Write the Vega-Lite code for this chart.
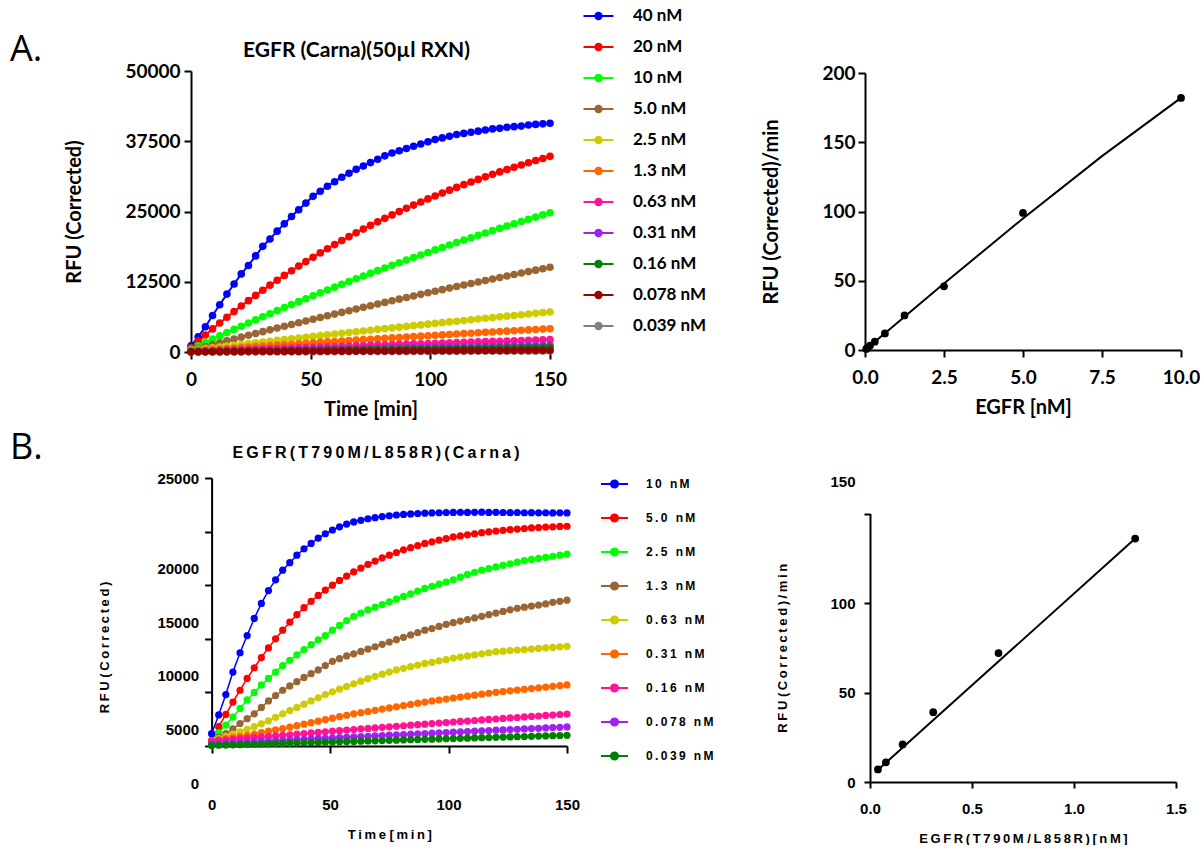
{
"$schema":"https://vega.github.io/schema/vega-lite/v6.json",
"background":"white",
"padding":{"left":10,"top":7,"right":0,"bottom":0},
"config":{"view":{"stroke":null},"axis":{"grid":false,"domainColor":"#000","domainWidth":2,"tickColor":"#000","tickWidth":2,"tickSize":7,"labelColor":"#000","titleColor":"#000","labelFlush":false,"labelOverlap":false,"labelFontWeight":"bold","titleFontWeight":"bold"},"title":{"color":"#000","offset":0}},
"datasets":{
"a":[
{"s":"0.039 nM","t":0,"y":10},{"s":"0.039 nM","t":3,"y":13},{"s":"0.039 nM","t":6,"y":16},{"s":"0.039 nM","t":9,"y":19},{"s":"0.039 nM","t":12,"y":22},{"s":"0.039 nM","t":15,"y":25},{"s":"0.039 nM","t":18,"y":28},{"s":"0.039 nM","t":21,"y":31},{"s":"0.039 nM","t":24,"y":34},{"s":"0.039 nM","t":27,"y":37},{"s":"0.039 nM","t":30,"y":40},{"s":"0.039 nM","t":33,"y":43},{"s":"0.039 nM","t":36,"y":46},{"s":"0.039 nM","t":39,"y":49},{"s":"0.039 nM","t":42,"y":52},{"s":"0.039 nM","t":45,"y":55},{"s":"0.039 nM","t":48,"y":58},{"s":"0.039 nM","t":51,"y":61},{"s":"0.039 nM","t":54,"y":64},{"s":"0.039 nM","t":57,"y":67},{"s":"0.039 nM","t":60,"y":70},{"s":"0.039 nM","t":63,"y":73},{"s":"0.039 nM","t":66,"y":76},{"s":"0.039 nM","t":69,"y":79},{"s":"0.039 nM","t":72,"y":82},{"s":"0.039 nM","t":75,"y":85},{"s":"0.039 nM","t":78,"y":88},{"s":"0.039 nM","t":81,"y":91},{"s":"0.039 nM","t":84,"y":94},{"s":"0.039 nM","t":87,"y":97},{"s":"0.039 nM","t":90,"y":100},{"s":"0.039 nM","t":93,"y":103},{"s":"0.039 nM","t":96,"y":106},{"s":"0.039 nM","t":99,"y":109},{"s":"0.039 nM","t":102,"y":112},{"s":"0.039 nM","t":105,"y":115},{"s":"0.039 nM","t":108,"y":118},{"s":"0.039 nM","t":111,"y":121},{"s":"0.039 nM","t":114,"y":124},{"s":"0.039 nM","t":117,"y":127},{"s":"0.039 nM","t":120,"y":130},{"s":"0.039 nM","t":123,"y":133},{"s":"0.039 nM","t":126,"y":136},{"s":"0.039 nM","t":129,"y":139},{"s":"0.039 nM","t":132,"y":142},{"s":"0.039 nM","t":135,"y":145},{"s":"0.039 nM","t":138,"y":148},{"s":"0.039 nM","t":141,"y":151},{"s":"0.039 nM","t":144,"y":154},{"s":"0.039 nM","t":147,"y":157},{"s":"0.039 nM","t":150,"y":160},
{"s":"40 nM","t":0,"y":1100},{"s":"40 nM","t":3,"y":2700},{"s":"40 nM","t":6,"y":4500},{"s":"40 nM","t":9,"y":6500},{"s":"40 nM","t":12,"y":8400},{"s":"40 nM","t":15,"y":10300},{"s":"40 nM","t":18,"y":12100},{"s":"40 nM","t":21,"y":13900},{"s":"40 nM","t":24,"y":15400},{"s":"40 nM","t":27,"y":17100},{"s":"40 nM","t":30,"y":18800},{"s":"40 nM","t":33,"y":20100},{"s":"40 nM","t":36,"y":21500},{"s":"40 nM","t":39,"y":22800},{"s":"40 nM","t":42,"y":24100},{"s":"40 nM","t":45,"y":25300},{"s":"40 nM","t":48,"y":26500},{"s":"40 nM","t":51,"y":27700},{"s":"40 nM","t":54,"y":28600},{"s":"40 nM","t":57,"y":29500},{"s":"40 nM","t":60,"y":30300},{"s":"40 nM","t":63,"y":31100},{"s":"40 nM","t":66,"y":31800},{"s":"40 nM","t":69,"y":32500},{"s":"40 nM","t":72,"y":33100},{"s":"40 nM","t":75,"y":33700},{"s":"40 nM","t":78,"y":34300},{"s":"40 nM","t":81,"y":34900},{"s":"40 nM","t":84,"y":35400},{"s":"40 nM","t":87,"y":35800},{"s":"40 nM","t":90,"y":36200},{"s":"40 nM","t":93,"y":36600},{"s":"40 nM","t":96,"y":37000},{"s":"40 nM","t":99,"y":37400},{"s":"40 nM","t":102,"y":37800},{"s":"40 nM","t":105,"y":38100},{"s":"40 nM","t":108,"y":38400},{"s":"40 nM","t":111,"y":38700},{"s":"40 nM","t":114,"y":38900},{"s":"40 nM","t":117,"y":39100},{"s":"40 nM","t":120,"y":39300},{"s":"40 nM","t":123,"y":39500},{"s":"40 nM","t":126,"y":39700},{"s":"40 nM","t":129,"y":39800},{"s":"40 nM","t":132,"y":40000},{"s":"40 nM","t":135,"y":40100},{"s":"40 nM","t":138,"y":40200},{"s":"40 nM","t":141,"y":40400},{"s":"40 nM","t":144,"y":40500},{"s":"40 nM","t":147,"y":40600},{"s":"40 nM","t":150,"y":40700},
{"s":"20 nM","t":0,"y":800},{"s":"20 nM","t":3,"y":1927},{"s":"20 nM","t":6,"y":3028},{"s":"20 nM","t":9,"y":4105},{"s":"20 nM","t":12,"y":5158},{"s":"20 nM","t":15,"y":6187},{"s":"20 nM","t":18,"y":7192},{"s":"20 nM","t":21,"y":8175},{"s":"20 nM","t":24,"y":9136},{"s":"20 nM","t":27,"y":10075},{"s":"20 nM","t":30,"y":10993},{"s":"20 nM","t":33,"y":11891},{"s":"20 nM","t":36,"y":12768},{"s":"20 nM","t":39,"y":13625},{"s":"20 nM","t":42,"y":14463},{"s":"20 nM","t":45,"y":15282},{"s":"20 nM","t":48,"y":16083},{"s":"20 nM","t":51,"y":16865},{"s":"20 nM","t":54,"y":17630},{"s":"20 nM","t":57,"y":18378},{"s":"20 nM","t":60,"y":19109},{"s":"20 nM","t":63,"y":19823},{"s":"20 nM","t":66,"y":20522},{"s":"20 nM","t":69,"y":21204},{"s":"20 nM","t":72,"y":21871},{"s":"20 nM","t":75,"y":22524},{"s":"20 nM","t":78,"y":23161},{"s":"20 nM","t":81,"y":23784},{"s":"20 nM","t":84,"y":24393},{"s":"20 nM","t":87,"y":24988},{"s":"20 nM","t":90,"y":25570},{"s":"20 nM","t":93,"y":26139},{"s":"20 nM","t":96,"y":26695},{"s":"20 nM","t":99,"y":27238},{"s":"20 nM","t":102,"y":27769},{"s":"20 nM","t":105,"y":28289},{"s":"20 nM","t":108,"y":28796},{"s":"20 nM","t":111,"y":29292},{"s":"20 nM","t":114,"y":29777},{"s":"20 nM","t":117,"y":30251},{"s":"20 nM","t":120,"y":30714},{"s":"20 nM","t":123,"y":31167},{"s":"20 nM","t":126,"y":31609},{"s":"20 nM","t":129,"y":32042},{"s":"20 nM","t":132,"y":32465},{"s":"20 nM","t":135,"y":32878},{"s":"20 nM","t":138,"y":33282},{"s":"20 nM","t":141,"y":33677},{"s":"20 nM","t":144,"y":34063},{"s":"20 nM","t":147,"y":34440},{"s":"20 nM","t":150,"y":34809},
{"s":"10 nM","t":0,"y":500},{"s":"10 nM","t":3,"y":1100},{"s":"10 nM","t":6,"y":1695},{"s":"10 nM","t":9,"y":2285},{"s":"10 nM","t":12,"y":2869},{"s":"10 nM","t":15,"y":3448},{"s":"10 nM","t":18,"y":4022},{"s":"10 nM","t":21,"y":4591},{"s":"10 nM","t":24,"y":5154},{"s":"10 nM","t":27,"y":5713},{"s":"10 nM","t":30,"y":6267},{"s":"10 nM","t":33,"y":6815},{"s":"10 nM","t":36,"y":7359},{"s":"10 nM","t":39,"y":7898},{"s":"10 nM","t":42,"y":8432},{"s":"10 nM","t":45,"y":8961},{"s":"10 nM","t":48,"y":9486},{"s":"10 nM","t":51,"y":10005},{"s":"10 nM","t":54,"y":10521},{"s":"10 nM","t":57,"y":11031},{"s":"10 nM","t":60,"y":11537},{"s":"10 nM","t":63,"y":12038},{"s":"10 nM","t":66,"y":12535},{"s":"10 nM","t":69,"y":13028},{"s":"10 nM","t":72,"y":13516},{"s":"10 nM","t":75,"y":14000},{"s":"10 nM","t":78,"y":14479},{"s":"10 nM","t":81,"y":14954},{"s":"10 nM","t":84,"y":15425},{"s":"10 nM","t":87,"y":15891},{"s":"10 nM","t":90,"y":16354},{"s":"10 nM","t":93,"y":16812},{"s":"10 nM","t":96,"y":17266},{"s":"10 nM","t":99,"y":17716},{"s":"10 nM","t":102,"y":18162},{"s":"10 nM","t":105,"y":18604},{"s":"10 nM","t":108,"y":19042},{"s":"10 nM","t":111,"y":19476},{"s":"10 nM","t":114,"y":19907},{"s":"10 nM","t":117,"y":20333},{"s":"10 nM","t":120,"y":20756},{"s":"10 nM","t":123,"y":21175},{"s":"10 nM","t":126,"y":21590},{"s":"10 nM","t":129,"y":22001},{"s":"10 nM","t":132,"y":22409},{"s":"10 nM","t":135,"y":22813},{"s":"10 nM","t":138,"y":23213},{"s":"10 nM","t":141,"y":23610},{"s":"10 nM","t":144,"y":24003},{"s":"10 nM","t":147,"y":24392},{"s":"10 nM","t":150,"y":24779},
{"s":"5.0 nM","t":0,"y":300},{"s":"5.0 nM","t":3,"y":641},{"s":"5.0 nM","t":6,"y":980},{"s":"5.0 nM","t":9,"y":1317},{"s":"5.0 nM","t":12,"y":1652},{"s":"5.0 nM","t":15,"y":1985},{"s":"5.0 nM","t":18,"y":2316},{"s":"5.0 nM","t":21,"y":2644},{"s":"5.0 nM","t":24,"y":2971},{"s":"5.0 nM","t":27,"y":3296},{"s":"5.0 nM","t":30,"y":3619},{"s":"5.0 nM","t":33,"y":3941},{"s":"5.0 nM","t":36,"y":4260},{"s":"5.0 nM","t":39,"y":4577},{"s":"5.0 nM","t":42,"y":4892},{"s":"5.0 nM","t":45,"y":5206},{"s":"5.0 nM","t":48,"y":5518},{"s":"5.0 nM","t":51,"y":5827},{"s":"5.0 nM","t":54,"y":6135},{"s":"5.0 nM","t":57,"y":6441},{"s":"5.0 nM","t":60,"y":6746},{"s":"5.0 nM","t":63,"y":7048},{"s":"5.0 nM","t":66,"y":7349},{"s":"5.0 nM","t":69,"y":7647},{"s":"5.0 nM","t":72,"y":7944},{"s":"5.0 nM","t":75,"y":8240},{"s":"5.0 nM","t":78,"y":8533},{"s":"5.0 nM","t":81,"y":8825},{"s":"5.0 nM","t":84,"y":9115},{"s":"5.0 nM","t":87,"y":9403},{"s":"5.0 nM","t":90,"y":9690},{"s":"5.0 nM","t":93,"y":9974},{"s":"5.0 nM","t":96,"y":10258},{"s":"5.0 nM","t":99,"y":10539},{"s":"5.0 nM","t":102,"y":10819},{"s":"5.0 nM","t":105,"y":11097},{"s":"5.0 nM","t":108,"y":11373},{"s":"5.0 nM","t":111,"y":11648},{"s":"5.0 nM","t":114,"y":11921},{"s":"5.0 nM","t":117,"y":12192},{"s":"5.0 nM","t":120,"y":12462},{"s":"5.0 nM","t":123,"y":12730},{"s":"5.0 nM","t":126,"y":12997},{"s":"5.0 nM","t":129,"y":13262},{"s":"5.0 nM","t":132,"y":13525},{"s":"5.0 nM","t":135,"y":13788},{"s":"5.0 nM","t":138,"y":14048},{"s":"5.0 nM","t":141,"y":14306},{"s":"5.0 nM","t":144,"y":14564},{"s":"5.0 nM","t":147,"y":14819},{"s":"5.0 nM","t":150,"y":15073},
{"s":"2.5 nM","t":0,"y":300},{"s":"2.5 nM","t":3,"y":450},{"s":"2.5 nM","t":6,"y":599},{"s":"2.5 nM","t":9,"y":748},{"s":"2.5 nM","t":12,"y":896},{"s":"2.5 nM","t":15,"y":1043},{"s":"2.5 nM","t":18,"y":1190},{"s":"2.5 nM","t":21,"y":1337},{"s":"2.5 nM","t":24,"y":1483},{"s":"2.5 nM","t":27,"y":1628},{"s":"2.5 nM","t":30,"y":1773},{"s":"2.5 nM","t":33,"y":1917},{"s":"2.5 nM","t":36,"y":2061},{"s":"2.5 nM","t":39,"y":2204},{"s":"2.5 nM","t":42,"y":2347},{"s":"2.5 nM","t":45,"y":2489},{"s":"2.5 nM","t":48,"y":2631},{"s":"2.5 nM","t":51,"y":2772},{"s":"2.5 nM","t":54,"y":2913},{"s":"2.5 nM","t":57,"y":3053},{"s":"2.5 nM","t":60,"y":3192},{"s":"2.5 nM","t":63,"y":3331},{"s":"2.5 nM","t":66,"y":3469},{"s":"2.5 nM","t":69,"y":3607},{"s":"2.5 nM","t":72,"y":3744},{"s":"2.5 nM","t":75,"y":3881},{"s":"2.5 nM","t":78,"y":4017},{"s":"2.5 nM","t":81,"y":4153},{"s":"2.5 nM","t":84,"y":4288},{"s":"2.5 nM","t":87,"y":4423},{"s":"2.5 nM","t":90,"y":4557},{"s":"2.5 nM","t":93,"y":4691},{"s":"2.5 nM","t":96,"y":4824},{"s":"2.5 nM","t":99,"y":4956},{"s":"2.5 nM","t":102,"y":5088},{"s":"2.5 nM","t":105,"y":5219},{"s":"2.5 nM","t":108,"y":5350},{"s":"2.5 nM","t":111,"y":5480},{"s":"2.5 nM","t":114,"y":5610},{"s":"2.5 nM","t":117,"y":5739},{"s":"2.5 nM","t":120,"y":5868},{"s":"2.5 nM","t":123,"y":5996},{"s":"2.5 nM","t":126,"y":6124},{"s":"2.5 nM","t":129,"y":6251},{"s":"2.5 nM","t":132,"y":6377},{"s":"2.5 nM","t":135,"y":6503},{"s":"2.5 nM","t":138,"y":6629},{"s":"2.5 nM","t":141,"y":6754},{"s":"2.5 nM","t":144,"y":6878},{"s":"2.5 nM","t":147,"y":7002},{"s":"2.5 nM","t":150,"y":7125},
{"s":"1.3 nM","t":0,"y":200},{"s":"1.3 nM","t":3,"y":287},{"s":"1.3 nM","t":6,"y":373},{"s":"1.3 nM","t":9,"y":459},{"s":"1.3 nM","t":12,"y":545},{"s":"1.3 nM","t":15,"y":631},{"s":"1.3 nM","t":18,"y":716},{"s":"1.3 nM","t":21,"y":801},{"s":"1.3 nM","t":24,"y":886},{"s":"1.3 nM","t":27,"y":970},{"s":"1.3 nM","t":30,"y":1054},{"s":"1.3 nM","t":33,"y":1137},{"s":"1.3 nM","t":36,"y":1221},{"s":"1.3 nM","t":39,"y":1304},{"s":"1.3 nM","t":42,"y":1386},{"s":"1.3 nM","t":45,"y":1469},{"s":"1.3 nM","t":48,"y":1551},{"s":"1.3 nM","t":51,"y":1632},{"s":"1.3 nM","t":54,"y":1714},{"s":"1.3 nM","t":57,"y":1795},{"s":"1.3 nM","t":60,"y":1875},{"s":"1.3 nM","t":63,"y":1956},{"s":"1.3 nM","t":66,"y":2036},{"s":"1.3 nM","t":69,"y":2115},{"s":"1.3 nM","t":72,"y":2195},{"s":"1.3 nM","t":75,"y":2274},{"s":"1.3 nM","t":78,"y":2352},{"s":"1.3 nM","t":81,"y":2431},{"s":"1.3 nM","t":84,"y":2509},{"s":"1.3 nM","t":87,"y":2587},{"s":"1.3 nM","t":90,"y":2664},{"s":"1.3 nM","t":93,"y":2741},{"s":"1.3 nM","t":96,"y":2818},{"s":"1.3 nM","t":99,"y":2895},{"s":"1.3 nM","t":102,"y":2971},{"s":"1.3 nM","t":105,"y":3047},{"s":"1.3 nM","t":108,"y":3122},{"s":"1.3 nM","t":111,"y":3197},{"s":"1.3 nM","t":114,"y":3272},{"s":"1.3 nM","t":117,"y":3347},{"s":"1.3 nM","t":120,"y":3421},{"s":"1.3 nM","t":123,"y":3495},{"s":"1.3 nM","t":126,"y":3568},{"s":"1.3 nM","t":129,"y":3641},{"s":"1.3 nM","t":132,"y":3714},{"s":"1.3 nM","t":135,"y":3787},{"s":"1.3 nM","t":138,"y":3859},{"s":"1.3 nM","t":141,"y":3931},{"s":"1.3 nM","t":144,"y":4003},{"s":"1.3 nM","t":147,"y":4074},{"s":"1.3 nM","t":150,"y":4145},
{"s":"0.63 nM","t":0,"y":100},{"s":"0.63 nM","t":3,"y":145},{"s":"0.63 nM","t":6,"y":190},{"s":"0.63 nM","t":9,"y":234},{"s":"0.63 nM","t":12,"y":279},{"s":"0.63 nM","t":15,"y":324},{"s":"0.63 nM","t":18,"y":368},{"s":"0.63 nM","t":21,"y":412},{"s":"0.63 nM","t":24,"y":456},{"s":"0.63 nM","t":27,"y":500},{"s":"0.63 nM","t":30,"y":544},{"s":"0.63 nM","t":33,"y":588},{"s":"0.63 nM","t":36,"y":631},{"s":"0.63 nM","t":39,"y":675},{"s":"0.63 nM","t":42,"y":718},{"s":"0.63 nM","t":45,"y":762},{"s":"0.63 nM","t":48,"y":805},{"s":"0.63 nM","t":51,"y":848},{"s":"0.63 nM","t":54,"y":891},{"s":"0.63 nM","t":57,"y":933},{"s":"0.63 nM","t":60,"y":976},{"s":"0.63 nM","t":63,"y":1019},{"s":"0.63 nM","t":66,"y":1061},{"s":"0.63 nM","t":69,"y":1103},{"s":"0.63 nM","t":72,"y":1145},{"s":"0.63 nM","t":75,"y":1188},{"s":"0.63 nM","t":78,"y":1229},{"s":"0.63 nM","t":81,"y":1271},{"s":"0.63 nM","t":84,"y":1313},{"s":"0.63 nM","t":87,"y":1355},{"s":"0.63 nM","t":90,"y":1396},{"s":"0.63 nM","t":93,"y":1437},{"s":"0.63 nM","t":96,"y":1479},{"s":"0.63 nM","t":99,"y":1520},{"s":"0.63 nM","t":102,"y":1561},{"s":"0.63 nM","t":105,"y":1602},{"s":"0.63 nM","t":108,"y":1642},{"s":"0.63 nM","t":111,"y":1683},{"s":"0.63 nM","t":114,"y":1723},{"s":"0.63 nM","t":117,"y":1764},{"s":"0.63 nM","t":120,"y":1804},{"s":"0.63 nM","t":123,"y":1844},{"s":"0.63 nM","t":126,"y":1884},{"s":"0.63 nM","t":129,"y":1924},{"s":"0.63 nM","t":132,"y":1964},{"s":"0.63 nM","t":135,"y":2003},{"s":"0.63 nM","t":138,"y":2043},{"s":"0.63 nM","t":141,"y":2082},{"s":"0.63 nM","t":144,"y":2122},{"s":"0.63 nM","t":147,"y":2161},{"s":"0.63 nM","t":150,"y":2200},
{"s":"0.31 nM","t":0,"y":80},{"s":"0.31 nM","t":3,"y":103},{"s":"0.31 nM","t":6,"y":126},{"s":"0.31 nM","t":9,"y":149},{"s":"0.31 nM","t":12,"y":172},{"s":"0.31 nM","t":15,"y":195},{"s":"0.31 nM","t":18,"y":218},{"s":"0.31 nM","t":21,"y":240},{"s":"0.31 nM","t":24,"y":263},{"s":"0.31 nM","t":27,"y":286},{"s":"0.31 nM","t":30,"y":309},{"s":"0.31 nM","t":33,"y":332},{"s":"0.31 nM","t":36,"y":355},{"s":"0.31 nM","t":39,"y":377},{"s":"0.31 nM","t":42,"y":400},{"s":"0.31 nM","t":45,"y":423},{"s":"0.31 nM","t":48,"y":445},{"s":"0.31 nM","t":51,"y":468},{"s":"0.31 nM","t":54,"y":491},{"s":"0.31 nM","t":57,"y":513},{"s":"0.31 nM","t":60,"y":536},{"s":"0.31 nM","t":63,"y":559},{"s":"0.31 nM","t":66,"y":581},{"s":"0.31 nM","t":69,"y":604},{"s":"0.31 nM","t":72,"y":626},{"s":"0.31 nM","t":75,"y":649},{"s":"0.31 nM","t":78,"y":671},{"s":"0.31 nM","t":81,"y":694},{"s":"0.31 nM","t":84,"y":716},{"s":"0.31 nM","t":87,"y":738},{"s":"0.31 nM","t":90,"y":761},{"s":"0.31 nM","t":93,"y":783},{"s":"0.31 nM","t":96,"y":806},{"s":"0.31 nM","t":99,"y":828},{"s":"0.31 nM","t":102,"y":850},{"s":"0.31 nM","t":105,"y":873},{"s":"0.31 nM","t":108,"y":895},{"s":"0.31 nM","t":111,"y":917},{"s":"0.31 nM","t":114,"y":939},{"s":"0.31 nM","t":117,"y":962},{"s":"0.31 nM","t":120,"y":984},{"s":"0.31 nM","t":123,"y":1006},{"s":"0.31 nM","t":126,"y":1028},{"s":"0.31 nM","t":129,"y":1050},{"s":"0.31 nM","t":132,"y":1072},{"s":"0.31 nM","t":135,"y":1094},{"s":"0.31 nM","t":138,"y":1116},{"s":"0.31 nM","t":141,"y":1138},{"s":"0.31 nM","t":144,"y":1161},{"s":"0.31 nM","t":147,"y":1183},{"s":"0.31 nM","t":150,"y":1205},
{"s":"0.16 nM","t":0,"y":40},{"s":"0.16 nM","t":3,"y":55},{"s":"0.16 nM","t":6,"y":70},{"s":"0.16 nM","t":9,"y":85},{"s":"0.16 nM","t":12,"y":100},{"s":"0.16 nM","t":15,"y":115},{"s":"0.16 nM","t":18,"y":130},{"s":"0.16 nM","t":21,"y":145},{"s":"0.16 nM","t":24,"y":160},{"s":"0.16 nM","t":27,"y":175},{"s":"0.16 nM","t":30,"y":190},{"s":"0.16 nM","t":33,"y":205},{"s":"0.16 nM","t":36,"y":220},{"s":"0.16 nM","t":39,"y":235},{"s":"0.16 nM","t":42,"y":250},{"s":"0.16 nM","t":45,"y":265},{"s":"0.16 nM","t":48,"y":280},{"s":"0.16 nM","t":51,"y":295},{"s":"0.16 nM","t":54,"y":310},{"s":"0.16 nM","t":57,"y":325},{"s":"0.16 nM","t":60,"y":340},{"s":"0.16 nM","t":63,"y":355},{"s":"0.16 nM","t":66,"y":370},{"s":"0.16 nM","t":69,"y":385},{"s":"0.16 nM","t":72,"y":400},{"s":"0.16 nM","t":75,"y":415},{"s":"0.16 nM","t":78,"y":430},{"s":"0.16 nM","t":81,"y":445},{"s":"0.16 nM","t":84,"y":460},{"s":"0.16 nM","t":87,"y":475},{"s":"0.16 nM","t":90,"y":490},{"s":"0.16 nM","t":93,"y":505},{"s":"0.16 nM","t":96,"y":520},{"s":"0.16 nM","t":99,"y":535},{"s":"0.16 nM","t":102,"y":550},{"s":"0.16 nM","t":105,"y":565},{"s":"0.16 nM","t":108,"y":580},{"s":"0.16 nM","t":111,"y":595},{"s":"0.16 nM","t":114,"y":610},{"s":"0.16 nM","t":117,"y":625},{"s":"0.16 nM","t":120,"y":640},{"s":"0.16 nM","t":123,"y":655},{"s":"0.16 nM","t":126,"y":670},{"s":"0.16 nM","t":129,"y":685},{"s":"0.16 nM","t":132,"y":700},{"s":"0.16 nM","t":135,"y":715},{"s":"0.16 nM","t":138,"y":730},{"s":"0.16 nM","t":141,"y":745},{"s":"0.16 nM","t":144,"y":760},{"s":"0.16 nM","t":147,"y":775},{"s":"0.16 nM","t":150,"y":790},
{"s":"0.078 nM","t":0,"y":20},{"s":"0.078 nM","t":3,"y":26},{"s":"0.078 nM","t":6,"y":32},{"s":"0.078 nM","t":9,"y":38},{"s":"0.078 nM","t":12,"y":44},{"s":"0.078 nM","t":15,"y":50},{"s":"0.078 nM","t":18,"y":56},{"s":"0.078 nM","t":21,"y":62},{"s":"0.078 nM","t":24,"y":68},{"s":"0.078 nM","t":27,"y":74},{"s":"0.078 nM","t":30,"y":80},{"s":"0.078 nM","t":33,"y":86},{"s":"0.078 nM","t":36,"y":92},{"s":"0.078 nM","t":39,"y":98},{"s":"0.078 nM","t":42,"y":104},{"s":"0.078 nM","t":45,"y":110},{"s":"0.078 nM","t":48,"y":116},{"s":"0.078 nM","t":51,"y":122},{"s":"0.078 nM","t":54,"y":128},{"s":"0.078 nM","t":57,"y":134},{"s":"0.078 nM","t":60,"y":140},{"s":"0.078 nM","t":63,"y":146},{"s":"0.078 nM","t":66,"y":152},{"s":"0.078 nM","t":69,"y":158},{"s":"0.078 nM","t":72,"y":164},{"s":"0.078 nM","t":75,"y":170},{"s":"0.078 nM","t":78,"y":176},{"s":"0.078 nM","t":81,"y":182},{"s":"0.078 nM","t":84,"y":188},{"s":"0.078 nM","t":87,"y":194},{"s":"0.078 nM","t":90,"y":200},{"s":"0.078 nM","t":93,"y":206},{"s":"0.078 nM","t":96,"y":212},{"s":"0.078 nM","t":99,"y":218},{"s":"0.078 nM","t":102,"y":224},{"s":"0.078 nM","t":105,"y":230},{"s":"0.078 nM","t":108,"y":236},{"s":"0.078 nM","t":111,"y":242},{"s":"0.078 nM","t":114,"y":248},{"s":"0.078 nM","t":117,"y":254},{"s":"0.078 nM","t":120,"y":260},{"s":"0.078 nM","t":123,"y":266},{"s":"0.078 nM","t":126,"y":272},{"s":"0.078 nM","t":129,"y":278},{"s":"0.078 nM","t":132,"y":284},{"s":"0.078 nM","t":135,"y":290},{"s":"0.078 nM","t":138,"y":296},{"s":"0.078 nM","t":141,"y":302},{"s":"0.078 nM","t":144,"y":308},{"s":"0.078 nM","t":147,"y":314},{"s":"0.078 nM","t":150,"y":320}
],
"b":[
{"s":"10 nM","t":0,"y":1150},{"s":"10 nM","t":3,"y":2900},{"s":"10 nM","t":6,"y":4800},{"s":"10 nM","t":9,"y":6900},{"s":"10 nM","t":12,"y":8700},{"s":"10 nM","t":15,"y":10300},{"s":"10 nM","t":18,"y":11900},{"s":"10 nM","t":21,"y":13300},{"s":"10 nM","t":24,"y":14500},{"s":"10 nM","t":27,"y":15500},{"s":"10 nM","t":30,"y":16400},{"s":"10 nM","t":33,"y":17100},{"s":"10 nM","t":36,"y":17800},{"s":"10 nM","t":39,"y":18400},{"s":"10 nM","t":42,"y":18900},{"s":"10 nM","t":45,"y":19400},{"s":"10 nM","t":48,"y":19800},{"s":"10 nM","t":51,"y":20150},{"s":"10 nM","t":54,"y":20450},{"s":"10 nM","t":57,"y":20700},{"s":"10 nM","t":60,"y":20900},{"s":"10 nM","t":63,"y":21050},{"s":"10 nM","t":66,"y":21200},{"s":"10 nM","t":69,"y":21300},{"s":"10 nM","t":72,"y":21400},{"s":"10 nM","t":75,"y":21480},{"s":"10 nM","t":78,"y":21550},{"s":"10 nM","t":81,"y":21600},{"s":"10 nM","t":84,"y":21650},{"s":"10 nM","t":87,"y":21690},{"s":"10 nM","t":90,"y":21720},{"s":"10 nM","t":93,"y":21740},{"s":"10 nM","t":96,"y":21760},{"s":"10 nM","t":99,"y":21780},{"s":"10 nM","t":102,"y":21790},{"s":"10 nM","t":105,"y":21800},{"s":"10 nM","t":108,"y":21790},{"s":"10 nM","t":111,"y":21800},{"s":"10 nM","t":114,"y":21810},{"s":"10 nM","t":117,"y":21790},{"s":"10 nM","t":120,"y":21800},{"s":"10 nM","t":123,"y":21780},{"s":"10 nM","t":126,"y":21770},{"s":"10 nM","t":129,"y":21780},{"s":"10 nM","t":132,"y":21760},{"s":"10 nM","t":135,"y":21770},{"s":"10 nM","t":138,"y":21750},{"s":"10 nM","t":141,"y":21760},{"s":"10 nM","t":144,"y":21740},{"s":"10 nM","t":147,"y":21750},{"s":"10 nM","t":150,"y":21740},
{"s":"5.0 nM","t":0,"y":500},{"s":"5.0 nM","t":3,"y":1800},{"s":"5.0 nM","t":6,"y":2950},{"s":"5.0 nM","t":9,"y":4100},{"s":"5.0 nM","t":12,"y":5200},{"s":"5.0 nM","t":15,"y":6300},{"s":"5.0 nM","t":18,"y":7300},{"s":"5.0 nM","t":21,"y":8250},{"s":"5.0 nM","t":24,"y":9150},{"s":"5.0 nM","t":27,"y":10000},{"s":"5.0 nM","t":30,"y":10800},{"s":"5.0 nM","t":33,"y":11550},{"s":"5.0 nM","t":36,"y":12250},{"s":"5.0 nM","t":39,"y":12900},{"s":"5.0 nM","t":42,"y":13500},{"s":"5.0 nM","t":45,"y":14050},{"s":"5.0 nM","t":48,"y":14550},{"s":"5.0 nM","t":51,"y":15000},{"s":"5.0 nM","t":54,"y":15450},{"s":"5.0 nM","t":57,"y":15850},{"s":"5.0 nM","t":60,"y":16250},{"s":"5.0 nM","t":63,"y":16600},{"s":"5.0 nM","t":66,"y":16950},{"s":"5.0 nM","t":69,"y":17250},{"s":"5.0 nM","t":72,"y":17550},{"s":"5.0 nM","t":75,"y":17800},{"s":"5.0 nM","t":78,"y":18050},{"s":"5.0 nM","t":81,"y":18300},{"s":"5.0 nM","t":84,"y":18500},{"s":"5.0 nM","t":87,"y":18700},{"s":"5.0 nM","t":90,"y":18900},{"s":"5.0 nM","t":93,"y":19050},{"s":"5.0 nM","t":96,"y":19200},{"s":"5.0 nM","t":99,"y":19350},{"s":"5.0 nM","t":102,"y":19500},{"s":"5.0 nM","t":105,"y":19600},{"s":"5.0 nM","t":108,"y":19700},{"s":"5.0 nM","t":111,"y":19800},{"s":"5.0 nM","t":114,"y":19900},{"s":"5.0 nM","t":117,"y":19980},{"s":"5.0 nM","t":120,"y":20050},{"s":"5.0 nM","t":123,"y":20120},{"s":"5.0 nM","t":126,"y":20180},{"s":"5.0 nM","t":129,"y":20240},{"s":"5.0 nM","t":132,"y":20290},{"s":"5.0 nM","t":135,"y":20340},{"s":"5.0 nM","t":138,"y":20380},{"s":"5.0 nM","t":141,"y":20420},{"s":"5.0 nM","t":144,"y":20450},{"s":"5.0 nM","t":147,"y":20480},{"s":"5.0 nM","t":150,"y":20500},
{"s":"2.5 nM","t":0,"y":500},{"s":"2.5 nM","t":3,"y":1250},{"s":"2.5 nM","t":6,"y":1950},{"s":"2.5 nM","t":9,"y":2700},{"s":"2.5 nM","t":12,"y":3500},{"s":"2.5 nM","t":15,"y":4300},{"s":"2.5 nM","t":18,"y":5000},{"s":"2.5 nM","t":21,"y":5700},{"s":"2.5 nM","t":24,"y":6300},{"s":"2.5 nM","t":27,"y":6900},{"s":"2.5 nM","t":30,"y":7500},{"s":"2.5 nM","t":33,"y":8000},{"s":"2.5 nM","t":36,"y":8500},{"s":"2.5 nM","t":39,"y":9000},{"s":"2.5 nM","t":42,"y":9450},{"s":"2.5 nM","t":45,"y":9900},{"s":"2.5 nM","t":48,"y":10300},{"s":"2.5 nM","t":51,"y":10800},{"s":"2.5 nM","t":54,"y":11250},{"s":"2.5 nM","t":57,"y":11700},{"s":"2.5 nM","t":60,"y":12100},{"s":"2.5 nM","t":63,"y":12400},{"s":"2.5 nM","t":66,"y":12700},{"s":"2.5 nM","t":69,"y":12950},{"s":"2.5 nM","t":72,"y":13200},{"s":"2.5 nM","t":75,"y":13450},{"s":"2.5 nM","t":78,"y":13700},{"s":"2.5 nM","t":81,"y":13950},{"s":"2.5 nM","t":84,"y":14200},{"s":"2.5 nM","t":87,"y":14450},{"s":"2.5 nM","t":90,"y":14700},{"s":"2.5 nM","t":93,"y":14900},{"s":"2.5 nM","t":96,"y":15100},{"s":"2.5 nM","t":99,"y":15300},{"s":"2.5 nM","t":102,"y":15500},{"s":"2.5 nM","t":105,"y":15750},{"s":"2.5 nM","t":108,"y":16000},{"s":"2.5 nM","t":111,"y":16200},{"s":"2.5 nM","t":114,"y":16400},{"s":"2.5 nM","t":117,"y":16550},{"s":"2.5 nM","t":120,"y":16700},{"s":"2.5 nM","t":123,"y":16850},{"s":"2.5 nM","t":126,"y":17000},{"s":"2.5 nM","t":129,"y":17150},{"s":"2.5 nM","t":132,"y":17300},{"s":"2.5 nM","t":135,"y":17400},{"s":"2.5 nM","t":138,"y":17500},{"s":"2.5 nM","t":141,"y":17600},{"s":"2.5 nM","t":144,"y":17700},{"s":"2.5 nM","t":147,"y":17800},{"s":"2.5 nM","t":150,"y":17900},
{"s":"1.3 nM","t":0,"y":500},{"s":"1.3 nM","t":3,"y":800},{"s":"1.3 nM","t":6,"y":1150},{"s":"1.3 nM","t":9,"y":1600},{"s":"1.3 nM","t":12,"y":2100},{"s":"1.3 nM","t":15,"y":2550},{"s":"1.3 nM","t":18,"y":3000},{"s":"1.3 nM","t":21,"y":3600},{"s":"1.3 nM","t":24,"y":4200},{"s":"1.3 nM","t":27,"y":4700},{"s":"1.3 nM","t":30,"y":5200},{"s":"1.3 nM","t":33,"y":5600},{"s":"1.3 nM","t":36,"y":6000},{"s":"1.3 nM","t":39,"y":6400},{"s":"1.3 nM","t":42,"y":6750},{"s":"1.3 nM","t":45,"y":7100},{"s":"1.3 nM","t":48,"y":7500},{"s":"1.3 nM","t":51,"y":7900},{"s":"1.3 nM","t":54,"y":8150},{"s":"1.3 nM","t":57,"y":8400},{"s":"1.3 nM","t":60,"y":8600},{"s":"1.3 nM","t":63,"y":8820},{"s":"1.3 nM","t":66,"y":9040},{"s":"1.3 nM","t":69,"y":9260},{"s":"1.3 nM","t":72,"y":9480},{"s":"1.3 nM","t":75,"y":9700},{"s":"1.3 nM","t":78,"y":9920},{"s":"1.3 nM","t":81,"y":10140},{"s":"1.3 nM","t":84,"y":10360},{"s":"1.3 nM","t":87,"y":10580},{"s":"1.3 nM","t":90,"y":10800},{"s":"1.3 nM","t":93,"y":10950},{"s":"1.3 nM","t":96,"y":11150},{"s":"1.3 nM","t":99,"y":11350},{"s":"1.3 nM","t":102,"y":11500},{"s":"1.3 nM","t":105,"y":11650},{"s":"1.3 nM","t":108,"y":11800},{"s":"1.3 nM","t":111,"y":11950},{"s":"1.3 nM","t":114,"y":12100},{"s":"1.3 nM","t":117,"y":12250},{"s":"1.3 nM","t":120,"y":12400},{"s":"1.3 nM","t":123,"y":12550},{"s":"1.3 nM","t":126,"y":12700},{"s":"1.3 nM","t":129,"y":12850},{"s":"1.3 nM","t":132,"y":12950},{"s":"1.3 nM","t":135,"y":13050},{"s":"1.3 nM","t":138,"y":13150},{"s":"1.3 nM","t":141,"y":13250},{"s":"1.3 nM","t":144,"y":13400},{"s":"1.3 nM","t":147,"y":13500},{"s":"1.3 nM","t":150,"y":13600},
{"s":"0.63 nM","t":0,"y":500},{"s":"0.63 nM","t":3,"y":700},{"s":"0.63 nM","t":6,"y":900},{"s":"0.63 nM","t":9,"y":1110},{"s":"0.63 nM","t":12,"y":1330},{"s":"0.63 nM","t":15,"y":1560},{"s":"0.63 nM","t":18,"y":1800},{"s":"0.63 nM","t":21,"y":2070},{"s":"0.63 nM","t":24,"y":2350},{"s":"0.63 nM","t":27,"y":2680},{"s":"0.63 nM","t":30,"y":3000},{"s":"0.63 nM","t":33,"y":3300},{"s":"0.63 nM","t":36,"y":3600},{"s":"0.63 nM","t":39,"y":3900},{"s":"0.63 nM","t":42,"y":4200},{"s":"0.63 nM","t":45,"y":4500},{"s":"0.63 nM","t":48,"y":4800},{"s":"0.63 nM","t":51,"y":5050},{"s":"0.63 nM","t":54,"y":5300},{"s":"0.63 nM","t":57,"y":5550},{"s":"0.63 nM","t":60,"y":5800},{"s":"0.63 nM","t":63,"y":6050},{"s":"0.63 nM","t":66,"y":6280},{"s":"0.63 nM","t":69,"y":6500},{"s":"0.63 nM","t":72,"y":6700},{"s":"0.63 nM","t":75,"y":6900},{"s":"0.63 nM","t":78,"y":7100},{"s":"0.63 nM","t":81,"y":7250},{"s":"0.63 nM","t":84,"y":7400},{"s":"0.63 nM","t":87,"y":7550},{"s":"0.63 nM","t":90,"y":7700},{"s":"0.63 nM","t":93,"y":7800},{"s":"0.63 nM","t":96,"y":7950},{"s":"0.63 nM","t":99,"y":8050},{"s":"0.63 nM","t":102,"y":8200},{"s":"0.63 nM","t":105,"y":8300},{"s":"0.63 nM","t":108,"y":8400},{"s":"0.63 nM","t":111,"y":8500},{"s":"0.63 nM","t":114,"y":8600},{"s":"0.63 nM","t":117,"y":8700},{"s":"0.63 nM","t":120,"y":8800},{"s":"0.63 nM","t":123,"y":8850},{"s":"0.63 nM","t":126,"y":8900},{"s":"0.63 nM","t":129,"y":8950},{"s":"0.63 nM","t":132,"y":9000},{"s":"0.63 nM","t":135,"y":9050},{"s":"0.63 nM","t":138,"y":9100},{"s":"0.63 nM","t":141,"y":9150},{"s":"0.63 nM","t":144,"y":9200},{"s":"0.63 nM","t":147,"y":9250},{"s":"0.63 nM","t":150,"y":9300},
{"s":"0.31 nM","t":0,"y":500},{"s":"0.31 nM","t":3,"y":600},{"s":"0.31 nM","t":6,"y":700},{"s":"0.31 nM","t":9,"y":800},{"s":"0.31 nM","t":12,"y":900},{"s":"0.31 nM","t":15,"y":1000},{"s":"0.31 nM","t":18,"y":1120},{"s":"0.31 nM","t":21,"y":1250},{"s":"0.31 nM","t":24,"y":1380},{"s":"0.31 nM","t":27,"y":1500},{"s":"0.31 nM","t":30,"y":1620},{"s":"0.31 nM","t":33,"y":1760},{"s":"0.31 nM","t":36,"y":1900},{"s":"0.31 nM","t":39,"y":2040},{"s":"0.31 nM","t":42,"y":2180},{"s":"0.31 nM","t":45,"y":2320},{"s":"0.31 nM","t":48,"y":2460},{"s":"0.31 nM","t":51,"y":2600},{"s":"0.31 nM","t":54,"y":2740},{"s":"0.31 nM","t":57,"y":2870},{"s":"0.31 nM","t":60,"y":3000},{"s":"0.31 nM","t":63,"y":3110},{"s":"0.31 nM","t":66,"y":3220},{"s":"0.31 nM","t":69,"y":3330},{"s":"0.31 nM","t":72,"y":3440},{"s":"0.31 nM","t":75,"y":3550},{"s":"0.31 nM","t":78,"y":3660},{"s":"0.31 nM","t":81,"y":3770},{"s":"0.31 nM","t":84,"y":3880},{"s":"0.31 nM","t":87,"y":3990},{"s":"0.31 nM","t":90,"y":4100},{"s":"0.31 nM","t":93,"y":4200},{"s":"0.31 nM","t":96,"y":4290},{"s":"0.31 nM","t":99,"y":4380},{"s":"0.31 nM","t":102,"y":4470},{"s":"0.31 nM","t":105,"y":4560},{"s":"0.31 nM","t":108,"y":4650},{"s":"0.31 nM","t":111,"y":4740},{"s":"0.31 nM","t":114,"y":4830},{"s":"0.31 nM","t":117,"y":4920},{"s":"0.31 nM","t":120,"y":5010},{"s":"0.31 nM","t":123,"y":5080},{"s":"0.31 nM","t":126,"y":5150},{"s":"0.31 nM","t":129,"y":5220},{"s":"0.31 nM","t":132,"y":5290},{"s":"0.31 nM","t":135,"y":5360},{"s":"0.31 nM","t":138,"y":5430},{"s":"0.31 nM","t":141,"y":5500},{"s":"0.31 nM","t":144,"y":5570},{"s":"0.31 nM","t":147,"y":5630},{"s":"0.31 nM","t":150,"y":5700},
{"s":"0.16 nM","t":0,"y":450},{"s":"0.16 nM","t":3,"y":500},{"s":"0.16 nM","t":6,"y":560},{"s":"0.16 nM","t":9,"y":610},{"s":"0.16 nM","t":12,"y":670},{"s":"0.16 nM","t":15,"y":720},{"s":"0.16 nM","t":18,"y":780},{"s":"0.16 nM","t":21,"y":830},{"s":"0.16 nM","t":24,"y":890},{"s":"0.16 nM","t":27,"y":940},{"s":"0.16 nM","t":30,"y":1000},{"s":"0.16 nM","t":33,"y":1050},{"s":"0.16 nM","t":36,"y":1110},{"s":"0.16 nM","t":39,"y":1160},{"s":"0.16 nM","t":42,"y":1220},{"s":"0.16 nM","t":45,"y":1270},{"s":"0.16 nM","t":48,"y":1330},{"s":"0.16 nM","t":51,"y":1380},{"s":"0.16 nM","t":54,"y":1430},{"s":"0.16 nM","t":57,"y":1490},{"s":"0.16 nM","t":60,"y":1540},{"s":"0.16 nM","t":63,"y":1590},{"s":"0.16 nM","t":66,"y":1640},{"s":"0.16 nM","t":69,"y":1690},{"s":"0.16 nM","t":72,"y":1740},{"s":"0.16 nM","t":75,"y":1790},{"s":"0.16 nM","t":78,"y":1840},{"s":"0.16 nM","t":81,"y":1890},{"s":"0.16 nM","t":84,"y":1940},{"s":"0.16 nM","t":87,"y":1990},{"s":"0.16 nM","t":90,"y":2040},{"s":"0.16 nM","t":93,"y":2090},{"s":"0.16 nM","t":96,"y":2140},{"s":"0.16 nM","t":99,"y":2190},{"s":"0.16 nM","t":102,"y":2240},{"s":"0.16 nM","t":105,"y":2290},{"s":"0.16 nM","t":108,"y":2330},{"s":"0.16 nM","t":111,"y":2380},{"s":"0.16 nM","t":114,"y":2430},{"s":"0.16 nM","t":117,"y":2480},{"s":"0.16 nM","t":120,"y":2520},{"s":"0.16 nM","t":123,"y":2570},{"s":"0.16 nM","t":126,"y":2620},{"s":"0.16 nM","t":129,"y":2660},{"s":"0.16 nM","t":132,"y":2710},{"s":"0.16 nM","t":135,"y":2760},{"s":"0.16 nM","t":138,"y":2800},{"s":"0.16 nM","t":141,"y":2850},{"s":"0.16 nM","t":144,"y":2890},{"s":"0.16 nM","t":147,"y":2940},{"s":"0.16 nM","t":150,"y":2980},
{"s":"0.078 nM","t":0,"y":200},{"s":"0.078 nM","t":3,"y":233},{"s":"0.078 nM","t":6,"y":266},{"s":"0.078 nM","t":9,"y":299},{"s":"0.078 nM","t":12,"y":332},{"s":"0.078 nM","t":15,"y":364},{"s":"0.078 nM","t":18,"y":397},{"s":"0.078 nM","t":21,"y":430},{"s":"0.078 nM","t":24,"y":462},{"s":"0.078 nM","t":27,"y":495},{"s":"0.078 nM","t":30,"y":527},{"s":"0.078 nM","t":33,"y":560},{"s":"0.078 nM","t":36,"y":592},{"s":"0.078 nM","t":39,"y":624},{"s":"0.078 nM","t":42,"y":656},{"s":"0.078 nM","t":45,"y":688},{"s":"0.078 nM","t":48,"y":720},{"s":"0.078 nM","t":51,"y":752},{"s":"0.078 nM","t":54,"y":784},{"s":"0.078 nM","t":57,"y":816},{"s":"0.078 nM","t":60,"y":848},{"s":"0.078 nM","t":63,"y":880},{"s":"0.078 nM","t":66,"y":911},{"s":"0.078 nM","t":69,"y":943},{"s":"0.078 nM","t":72,"y":975},{"s":"0.078 nM","t":75,"y":1006},{"s":"0.078 nM","t":78,"y":1038},{"s":"0.078 nM","t":81,"y":1069},{"s":"0.078 nM","t":84,"y":1100},{"s":"0.078 nM","t":87,"y":1132},{"s":"0.078 nM","t":90,"y":1163},{"s":"0.078 nM","t":93,"y":1194},{"s":"0.078 nM","t":96,"y":1225},{"s":"0.078 nM","t":99,"y":1256},{"s":"0.078 nM","t":102,"y":1287},{"s":"0.078 nM","t":105,"y":1318},{"s":"0.078 nM","t":108,"y":1349},{"s":"0.078 nM","t":111,"y":1380},{"s":"0.078 nM","t":114,"y":1411},{"s":"0.078 nM","t":117,"y":1441},{"s":"0.078 nM","t":120,"y":1472},{"s":"0.078 nM","t":123,"y":1503},{"s":"0.078 nM","t":126,"y":1533},{"s":"0.078 nM","t":129,"y":1564},{"s":"0.078 nM","t":132,"y":1594},{"s":"0.078 nM","t":135,"y":1624},{"s":"0.078 nM","t":138,"y":1654},{"s":"0.078 nM","t":141,"y":1685},{"s":"0.078 nM","t":144,"y":1715},{"s":"0.078 nM","t":147,"y":1745},{"s":"0.078 nM","t":150,"y":1775},
{"s":"0.039 nM","t":0,"y":50},{"s":"0.039 nM","t":3,"y":69},{"s":"0.039 nM","t":6,"y":88},{"s":"0.039 nM","t":9,"y":107},{"s":"0.039 nM","t":12,"y":126},{"s":"0.039 nM","t":15,"y":145},{"s":"0.039 nM","t":18,"y":164},{"s":"0.039 nM","t":21,"y":183},{"s":"0.039 nM","t":24,"y":202},{"s":"0.039 nM","t":27,"y":221},{"s":"0.039 nM","t":30,"y":240},{"s":"0.039 nM","t":33,"y":259},{"s":"0.039 nM","t":36,"y":278},{"s":"0.039 nM","t":39,"y":297},{"s":"0.039 nM","t":42,"y":316},{"s":"0.039 nM","t":45,"y":335},{"s":"0.039 nM","t":48,"y":354},{"s":"0.039 nM","t":51,"y":373},{"s":"0.039 nM","t":54,"y":392},{"s":"0.039 nM","t":57,"y":411},{"s":"0.039 nM","t":60,"y":430},{"s":"0.039 nM","t":63,"y":449},{"s":"0.039 nM","t":66,"y":468},{"s":"0.039 nM","t":69,"y":487},{"s":"0.039 nM","t":72,"y":506},{"s":"0.039 nM","t":75,"y":525},{"s":"0.039 nM","t":78,"y":544},{"s":"0.039 nM","t":81,"y":563},{"s":"0.039 nM","t":84,"y":582},{"s":"0.039 nM","t":87,"y":601},{"s":"0.039 nM","t":90,"y":620},{"s":"0.039 nM","t":93,"y":639},{"s":"0.039 nM","t":96,"y":658},{"s":"0.039 nM","t":99,"y":677},{"s":"0.039 nM","t":102,"y":696},{"s":"0.039 nM","t":105,"y":715},{"s":"0.039 nM","t":108,"y":734},{"s":"0.039 nM","t":111,"y":753},{"s":"0.039 nM","t":114,"y":772},{"s":"0.039 nM","t":117,"y":791},{"s":"0.039 nM","t":120,"y":810},{"s":"0.039 nM","t":123,"y":829},{"s":"0.039 nM","t":126,"y":848},{"s":"0.039 nM","t":129,"y":867},{"s":"0.039 nM","t":132,"y":886},{"s":"0.039 nM","t":135,"y":905},{"s":"0.039 nM","t":138,"y":924},{"s":"0.039 nM","t":141,"y":943},{"s":"0.039 nM","t":144,"y":962},{"s":"0.039 nM","t":147,"y":981},{"s":"0.039 nM","t":150,"y":1000}
],
"af":[{"x":0,"y":0},{"x":2.5,"y":48},{"x":5,"y":95},{"x":7.5,"y":140},{"x":10,"y":182}],
"ap":[{"x":0.039,"y":0.8},{"x":0.078,"y":1.6},{"x":0.16,"y":3.2},{"x":0.31,"y":6},{"x":0.63,"y":12},{"x":1.25,"y":25},{"x":2.5,"y":46},{"x":5,"y":99},{"x":10,"y":182}],
"bf":[{"x":0.039,"y":6.8},{"x":1.3,"y":136}],
"bp":[{"x":0.039,"y":7},{"x":0.078,"y":11},{"x":0.16,"y":21},{"x":0.31,"y":39},{"x":0.63,"y":72},{"x":1.3,"y":136}]
},
"vconcat":[
{"title":{"text":"A.","anchor":"start","frame":"group","font":"Open Sans","fontSize":36,"fontWeight":"normal","dx":-181,"dy":65},
 "hconcat":[
 {"width":359,"height":281,
  "title":{"text":"EGFR (Carna)(50µl RXN)","font":"Lato","fontSize":21,"fontWeight":"bold","dx":-14,"dy":3},
  "data":{"name":"a"},
  "encoding":{
   "x":{"field":"t","type":"quantitative","scale":{"domain":[0,150],"nice":false},"axis":{"values":[0,50,100,150],"title":"Time [min]","labelFont":"Lato","labelFontSize":19,"labelPadding":11,"titleFont":"Lato","titleFontSize":20,"titlePadding":10}},
   "y":{"field":"y","type":"quantitative","scale":{"domain":[0,50000],"nice":false},"axis":{"values":[0,12500,25000,37500,50000],"format":"d","title":"RFU (Corrected)","labelFont":"Lato","labelFontSize":19,"labelPadding":4,"titleFont":"Lato","titleFontSize":20,"titlePadding":40}}
  },
  "layer":[
   {"mark":{"type":"line","strokeWidth":2},
    "encoding":{"stroke":{"field":"s","type":"nominal","scale":{"domain":["40 nM","20 nM","10 nM","5.0 nM","2.5 nM","1.3 nM","0.63 nM","0.31 nM","0.16 nM","0.078 nM","0.039 nM"],"range":["#0000FF","#FF0000","#00FF00","#996633","#CCCC00","#FF6600","#FF1493","#A020F0","#008000","#990000","#808080"]},
     "legend":{"title":null,"orient":"none","direction":"vertical","legendX":399,"legendY":-63.5,"padding":0,"symbolType":"M-3.75,0L3.75,0M0.8,0A0.8,0.8,0,1,1,-0.8,0A0.8,0.8,0,1,1,0.8,0Z","symbolSize":64,"symbolStrokeWidth":2,"labelFont":"Lato","labelFontSize":17,"labelFontWeight":"bold","labelColor":"#000","labelOffset":26,"rowPadding":13}}}},
   {"mark":{"type":"point","filled":true,"size":58,"opacity":1},
    "encoding":{"fill":{"field":"s","type":"nominal","scale":{"domain":["40 nM","20 nM","10 nM","5.0 nM","2.5 nM","1.3 nM","0.63 nM","0.31 nM","0.16 nM","0.078 nM","0.039 nM"],"range":["#0000FF","#FF0000","#00FF00","#996633","#CCCC00","#FF6600","#FF1493","#A020F0","#008000","#990000","#808080"]},
     "legend":{"title":null,"orient":"none","direction":"vertical","legendX":399,"legendY":-63.5,"padding":0,"symbolType":"M-3.75,0L3.75,0M0.8,0A0.8,0.8,0,1,1,-0.8,0A0.8,0.8,0,1,1,0.8,0Z","symbolSize":64,"symbolStrokeWidth":2,"labelFont":"Lato","labelFontSize":17,"labelFontWeight":"bold","labelColor":"#000","labelOffset":26,"rowPadding":13}}}}
  ]},
 {"width":316,"height":279,
  "encoding":{
   "x":{"field":"x","type":"quantitative","scale":{"domain":[0,10],"nice":false},"axis":{"values":[0,2.5,5,7.5,10],"format":".1f","title":"EGFR [nM]","labelFont":"Lato","labelFontSize":19,"labelPadding":11,"titleFont":"Lato","titleFontSize":20,"titlePadding":10}},
   "y":{"field":"y","type":"quantitative","scale":{"domain":[0,200],"nice":false,"range":[279,2]},"axis":{"values":[0,50,100,150,200],"title":"RFU (Corrected)/min","labelFont":"Lato","labelFontSize":19,"labelPadding":3,"titleFont":"Lato","titleFontSize":20,"titlePadding":40}}
  },
  "layer":[
   {"data":{"name":"af"},"mark":{"type":"line","color":"#000","strokeWidth":2}},
   {"data":{"name":"ap"},"mark":{"type":"point","filled":true,"color":"#000","size":60,"opacity":1}}
  ]}
 ],
 "spacing":315,"bounds":"flush"},
{"title":{"text":"B.","anchor":"start","frame":"group","font":"Open Sans","fontSize":36,"fontWeight":"normal","dx":-181,"dy":26},
 "hconcat":[
 {"width":376,"height":268,
  "title":{"text":"E\u2009G\u2009F\u2009R\u2009(\u2009T\u20097\u20099\u20090\u2009M\u2009/\u2009L\u20098\u20095\u20098\u2009R\u2009)\u2009(\u2009C\u2009a\u2009r\u2009n\u2009a\u2009)","font":"Liberation Sans","fontSize":16,"fontWeight":"bold","dx":-3,"dy":-6},
  "data":{"name":"b"},
  "encoding":{
   "x":{"field":"t","type":"quantitative","scale":{"domain":[0,150],"nice":false,"range":[20.6,376]},"axis":{"values":[0,50,100,150],"title":"T\u2009i\u2009m\u2009e [\u2009m\u2009i\u2009n\u2009]","labelFont":"Liberation Sans","labelFontSize":15,"labelPadding":44,"titleFont":"Liberation Sans","titleFontSize":13,"titlePadding":16}},
   "y":{"field":"y","type":"quantitative","scale":{"domain":[0,25000],"nice":false},"axis":{"values":[0,5000,10000,15000,20000,25000],"format":"d","offset":-20.6,"labelFont":"Liberation Sans","labelFontSize":15,"labelPadding":6,"labelOffset":{"condition":{"test":"datum.value < 25000","value":37},"value":0},"title":"R\u2009F\u2009U (\u2009C\u2009o\u2009r\u2009r\u2009e\u2009c\u2009t\u2009e\u2009d\u2009)","titleFont":"Liberation Sans","titleFontSize":13,"titlePadding":45,"titleY":169}}
  },
  "layer":[
   {"mark":{"type":"line","strokeWidth":1.5},
    "encoding":{"stroke":{"field":"s","type":"nominal","scale":{"domain":["10 nM","5.0 nM","2.5 nM","1.3 nM","0.63 nM","0.31 nM","0.16 nM","0.078 nM","0.039 nM"],"range":["#0000FF","#FF0000","#00FF00","#996633","#CCCC00","#FF6600","#FF1493","#A020F0","#008000"]},
     "legend":{"title":null,"orient":"none","direction":"vertical","legendX":417.5,"legendY":0,"padding":0,"symbolType":"M-3.375,0L3.375,0M0.9,0A0.9,0.9,0,1,1,-0.9,0A0.9,0.9,0,1,1,0.9,0Z","symbolSize":64,"symbolStrokeWidth":2,"labelFont":"Liberation Sans","labelFontSize":12,"labelFontWeight":"bold","labelColor":"#000","labelOffset":25.5,"rowPadding":18,"labelExpr":"replace(datum.label, regexp('(.)(?=.)','g'), '$1\u2009')"}}}},
   {"mark":{"type":"point","filled":true,"size":52,"opacity":1},
    "encoding":{"fill":{"field":"s","type":"nominal","scale":{"domain":["10 nM","5.0 nM","2.5 nM","1.3 nM","0.63 nM","0.31 nM","0.16 nM","0.078 nM","0.039 nM"],"range":["#0000FF","#FF0000","#00FF00","#996633","#CCCC00","#FF6600","#FF1493","#A020F0","#008000"]},
     "legend":{"title":null,"orient":"none","direction":"vertical","legendX":417.5,"legendY":0,"padding":0,"symbolType":"M-3.375,0L3.375,0M0.9,0A0.9,0.9,0,1,1,-0.9,0A0.9,0.9,0,1,1,0.9,0Z","symbolSize":64,"symbolStrokeWidth":2,"labelFont":"Liberation Sans","labelFontSize":12,"labelFontWeight":"bold","labelColor":"#000","labelOffset":25.5,"rowPadding":18,"labelExpr":"replace(datum.label, regexp('(.)(?=.)','g'), '$1\u2009')"}}}}
  ]},
 {"width":306,"height":304,
  "encoding":{
   "x":{"field":"x","type":"quantitative","scale":{"domain":[0,1.5],"nice":false},"axis":{"values":[0,0.5,1,1.5],"format":".1f","tickSize":6,"title":"E\u2009G\u2009F\u2009R\u2009(\u2009T\u20097\u20099\u20090\u2009M /\u2009L\u20098\u20095\u20098\u2009R\u2009)\u2009[\u2009n\u2009M\u2009]","labelFont":"Liberation Sans","labelFontSize":15,"labelPadding":13,"titleFont":"Liberation Sans","titleFontSize":13,"titlePadding":16}},
   "y":{"field":"y","type":"quantitative","scale":{"domain":[0,150],"nice":false,"range":[304,35.5]},"axis":{"values":[0,50,100,150],"tickSize":6,"labelFont":"Liberation Sans","labelFontSize":15,"labelPadding":9,"labelOffset":{"condition":{"test":"datum.value == 150","value":-32},"value":0},"title":"R\u2009F\u2009U (\u2009C\u2009o\u2009r\u2009r\u2009e\u2009c\u2009t\u2009e\u2009d\u2009)\u2009/\u2009m\u2009i\u2009n","titleFont":"Liberation Sans","titleFontSize":13,"titlePadding":40}}
  },
  "layer":[
   {"data":{"name":"bf"},"mark":{"type":"line","color":"#000","strokeWidth":2}},
   {"data":{"name":"bp"},"mark":{"type":"point","filled":true,"color":"#000","size":60,"opacity":1}}
  ]}
 ],
 "spacing":303,"bounds":"flush"}
],
"spacing":407,"bounds":"flush",
"resolve":{"scale":{"stroke":"independent","fill":"independent"},"legend":{"stroke":"independent","fill":"independent"}}
}
